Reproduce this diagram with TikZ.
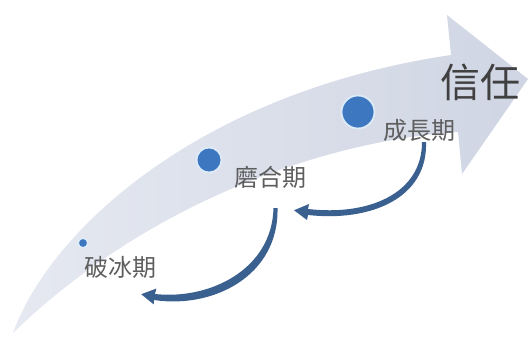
\documentclass[tikz,border=0pt]{standalone}
\usepackage{fontspec}
\newfontfamily\cjk{Noto Sans CJK TC}
\definecolor{bandL}{HTML}{E6E9F1}
\definecolor{bandR}{HTML}{CFD5E3}
\definecolor{dotfill}{HTML}{3D77C0}
\definecolor{dothalo}{HTML}{DDEBF9}
\definecolor{loopcol}{HTML}{3A6090}
\definecolor{labelcol}{HTML}{5E5E5E}
\definecolor{titlecol}{HTML}{404040}
\begin{document}
\begin{tikzpicture}[x=1pt,y=-1pt,
  stagedot/.style={circle,fill=dotfill,draw=dothalo,line width=1.8pt,inner sep=0pt},
  stagelabel/.style={font=\cjk\fontsize{24}{24}\selectfont,text=labelcol,inner sep=0pt},
  titlelabel/.style={font=\cjk\fontsize{40}{40}\selectfont,text=titlecol,inner sep=0pt},
  loopshape/.style={fill=loopcol,draw=none}]
\useasboundingbox (0,0) rectangle (530,338);
% main curved arrow
\shade[left color=bandL,right color=bandR]
  (13,333) .. controls (50,230) and (200,92) .. (451,55)
  -- (447,15) -- (528,79) -- (462,174) -- (458,132)
  .. controls (330,140) and (150,200) .. (13,333) -- cycle;
% stage dots
\node[stagedot,minimum size=10pt] (d1) at (83,243) {};
\node[stagedot,minimum size=25pt] (d2) at (209,160) {};
\node[stagedot,minimum size=33pt] (d3) at (358,112) {};
% labels
\node[stagelabel] (l1) at (120,267) {破冰期};
\node[stagelabel] (l2) at (270,177) {磨合期};
\node[stagelabel] (l3) at (419,130) {成長期};
\node[titlelabel] (l4) at (480,82) {信任};
% loop arrow 1 (from below 磨合期 back to 破冰期)
\fill[loopshape]
  (277.5,208) .. controls (279,276) and (213,309) .. (154,300)
  -- (153.7,304.4) -- (141.2,294.2) -- (156.3,288.6) -- (155,294)
  .. controls (209,300) and (272,270) .. (273.5,208) -- cycle;
% loop arrow 2 (from below 成長期 back to 磨合期)
\fill[loopshape]
  (426,142) .. controls (428,198) and (371,222) .. (308,215)
  -- (307,220) -- (294,210.3) -- (309,204) -- (308,209)
  .. controls (368,216) and (422,194) .. (422,142) -- cycle;
\end{tikzpicture}
\end{document}
